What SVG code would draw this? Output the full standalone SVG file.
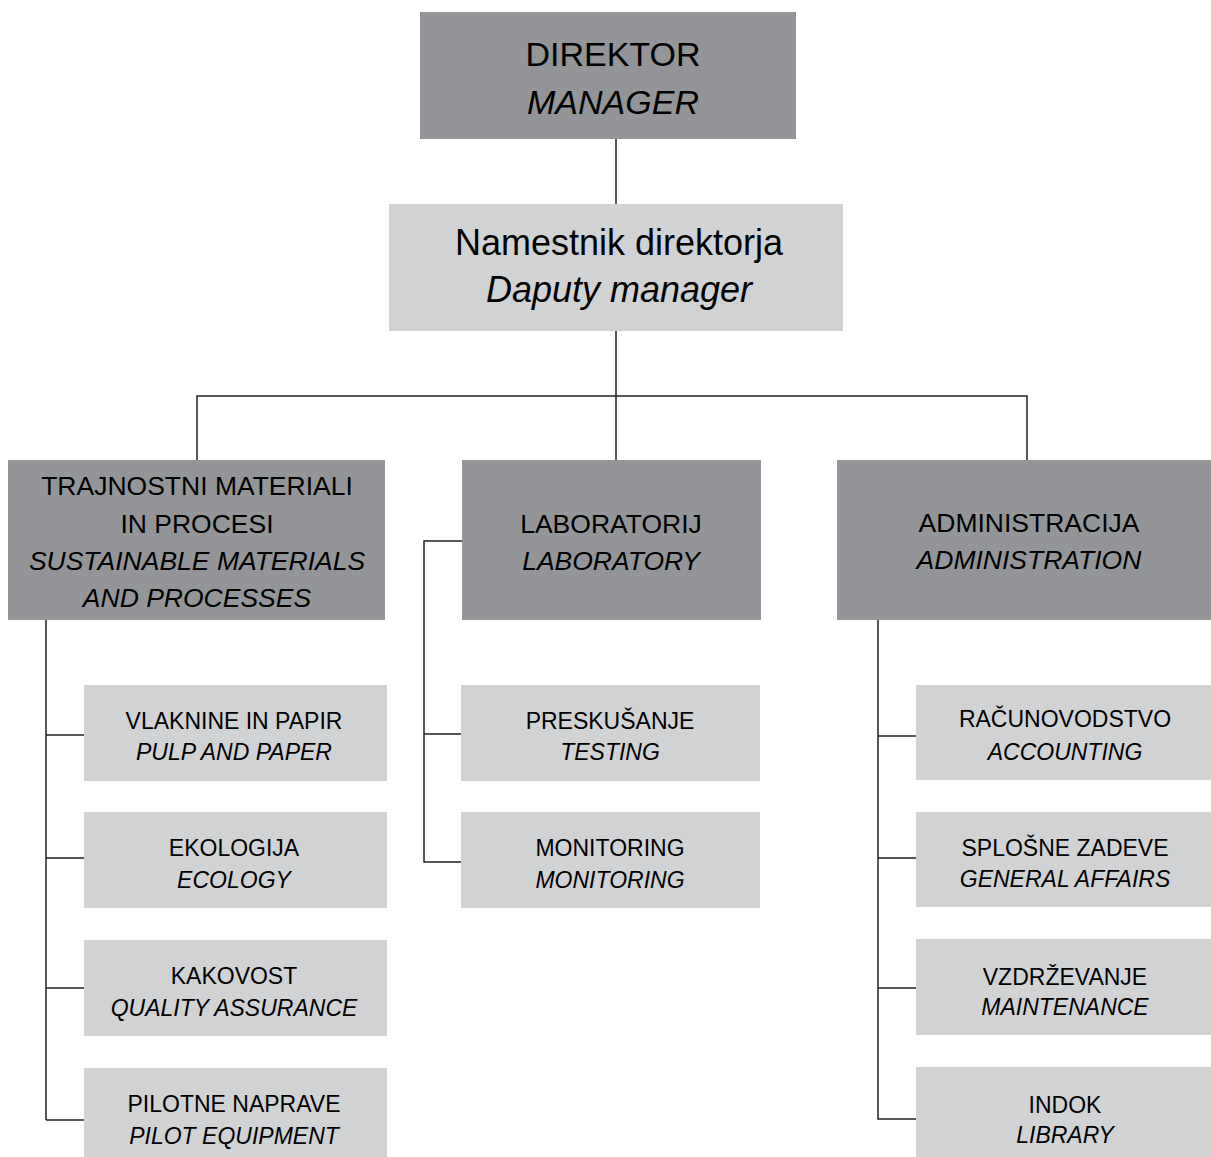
<svg xmlns="http://www.w3.org/2000/svg" width="1211" height="1157" viewBox="0 0 1211 1157">
<style>
.dark{fill:#939598}
.light{fill:#d1d2d4}
text{font-family:"Liberation Sans",Arial,sans-serif;fill:#000;text-anchor:middle}
.big{font-size:34px}
.dep{font-size:36px}
.mid{font-size:26.5px}
.sm{font-size:23px}
.it{font-style:italic}
.con{fill:none;stroke:#231f20;stroke-width:1.5}
</style>
<rect width="1211" height="1157" fill="#fff"/>
<g id="connectors" class="con">
<path d="M616 139V204"/>
<path d="M616 331V396M197 460V396H1027V460M616 396V460"/>
<path d="M46 620V1120M46 735H84M46 858H84M46 988H84M46 1120H84"/>
<path d="M462 541H424V862H461M424 734H461"/>
<path d="M878 620V1119H916M878 736H916M878 858H916M878 988H916"/>
</g>
<g id="director"><rect class="dark" x="420" y="12" width="376" height="127"/>
<text class="big" x="613" y="66">DIREKTOR</text><text class="big it" x="613" y="114">MANAGER</text></g>
<g id="deputy"><rect class="light" x="389" y="204" width="454" height="127"/>
<text class="dep" x="619" y="255">Namestnik direktorja</text><text class="dep it" x="619" y="302">Daputy manager</text></g>
<g id="sustainable"><rect class="dark" x="8" y="460" width="377" height="160"/>
<text class="mid" x="197" y="495">TRAJNOSTNI MATERIALI</text>
<text class="mid" x="197" y="533">IN PROCESI</text>
<text class="mid it" x="197" y="570">SUSTAINABLE MATERIALS</text>
<text class="mid it" x="197" y="607">AND PROCESSES</text></g>
<g id="laboratory"><rect class="dark" x="462" y="460" width="299" height="160"/>
<text class="mid" x="611" y="533">LABORATORIJ</text><text class="mid it" x="611" y="570">LABORATORY</text></g>
<g id="administration"><rect class="dark" x="837" y="460" width="374" height="160"/>
<text class="mid" x="1029" y="532">ADMINISTRACIJA</text><text class="mid it" x="1029" y="569">ADMINISTRATION</text></g>
<g id="pulp"><rect class="light" x="84" y="685" width="303" height="96"/>
<text class="sm" x="234" y="729">VLAKNINE IN PAPIR</text><text class="sm it" x="234" y="760">PULP AND PAPER</text></g>
<g id="ecology"><rect class="light" x="84" y="812" width="303" height="96"/>
<text class="sm" x="234" y="856">EKOLOGIJA</text><text class="sm it" x="234" y="888">ECOLOGY</text></g>
<g id="quality"><rect class="light" x="84" y="940" width="303" height="96"/>
<text class="sm" x="234" y="984">KAKOVOST</text><text class="sm it" x="234" y="1016">QUALITY ASSURANCE</text></g>
<g id="pilot"><rect class="light" x="84" y="1068" width="303" height="89"/>
<text class="sm" x="234" y="1112">PILOTNE NAPRAVE</text><text class="sm it" x="234" y="1144">PILOT EQUIPMENT</text></g>
<g id="testing"><rect class="light" x="461" y="685" width="299" height="96"/>
<text class="sm" x="610" y="729">PRESKUŠANJE</text><text class="sm it" x="610" y="760">TESTING</text></g>
<g id="monitoring"><rect class="light" x="461" y="812" width="299" height="96"/>
<text class="sm" x="610" y="856">MONITORING</text><text class="sm it" x="610" y="888">MONITORING</text></g>
<g id="accounting"><rect class="light" x="916" y="685" width="295" height="95"/>
<text class="sm" x="1065" y="727">RAČUNOVODSTVO</text><text class="sm it" x="1065" y="760">ACCOUNTING</text></g>
<g id="general"><rect class="light" x="916" y="812" width="295" height="95"/>
<text class="sm" x="1065" y="856">SPLOŠNE ZADEVE</text><text class="sm it" x="1065" y="887">GENERAL AFFAIRS</text></g>
<g id="maintenance"><rect class="light" x="916" y="939" width="295" height="96"/>
<text class="sm" x="1065" y="985">VZDRŽEVANJE</text><text class="sm it" x="1065" y="1015">MAINTENANCE</text></g>
<g id="library"><rect class="light" x="916" y="1067" width="295" height="90"/>
<text class="sm" x="1065" y="1113">INDOK</text><text class="sm it" x="1065" y="1143">LIBRARY</text></g>
</svg>
